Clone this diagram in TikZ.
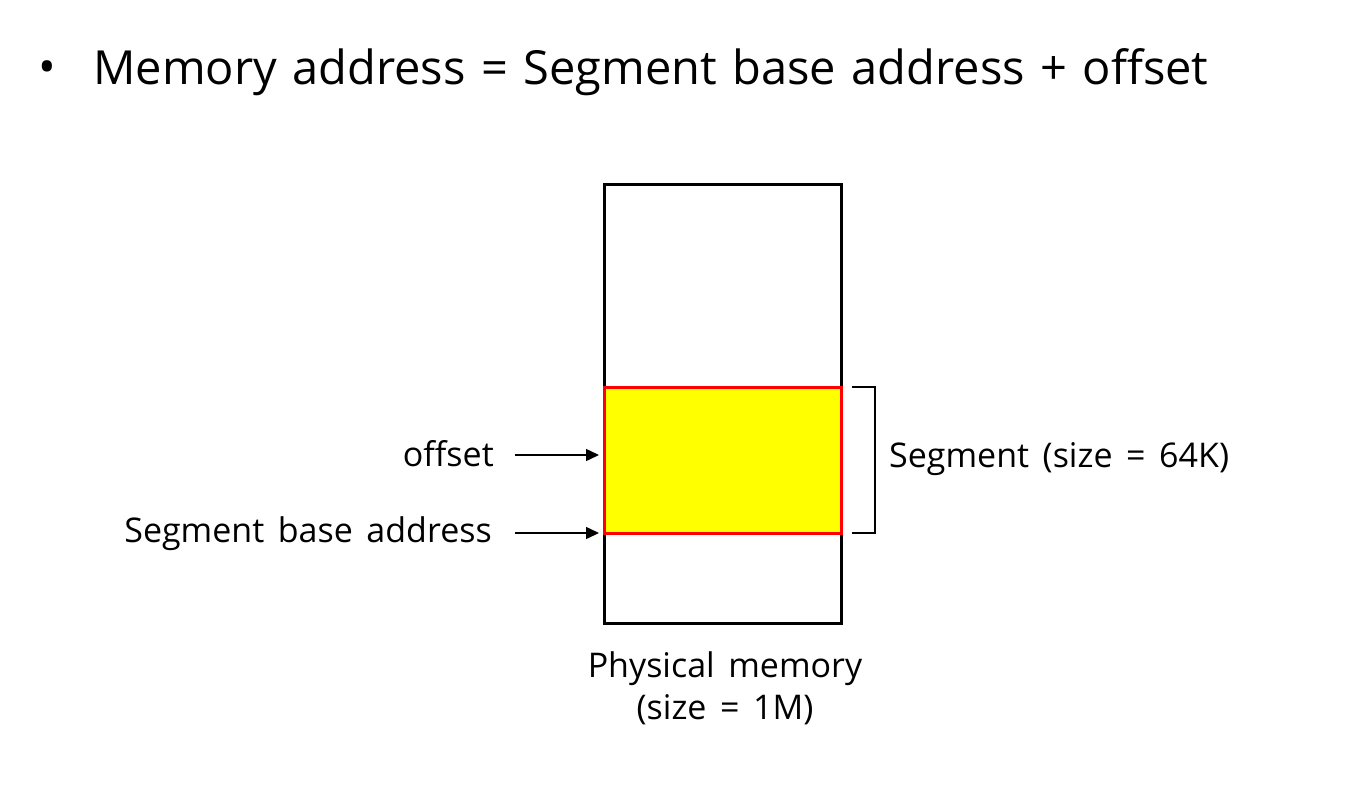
\documentclass[tikz,border=0pt]{standalone}
\usepackage{fontspec}
\setmainfont{Open Sans}
\usetikzlibrary{arrows.meta}
\definecolor{segyellow}{RGB}{255,255,0}
\definecolor{segred}{RGB}{255,0,0}
\newcommand{\lblfont}{\fontsize{34}{42}\selectfont\spaceskip=0.40em\relax}
\newcommand{\ttlfont}{\fontsize{47}{55}\selectfont\spaceskip=0.33em\relax}
\begin{document}
\begin{tikzpicture}[x=1pt,y=-1pt,
  lbl/.style={inner sep=0pt,font=\lblfont},
  ttl/.style={inner sep=0pt,font=\ttlfont},
  arr/.style={-{Triangle[length=13pt,width=12pt]},line width=1.5pt}]
\useasboundingbox[fill=white] (0,0) rectangle (1353,793);
\node[ttl,anchor=west] (bul) at (38,72) {•};
\node[ttl,anchor=west] (title) at (93,72) {Memory address = Segment base address + offset};
\node[draw=black,line width=3pt,minimum width=237pt,minimum height=439pt,inner sep=0pt] (mem) at (722.5,403.5) {};
\node[draw=segred,fill=segyellow,line width=3pt,minimum width=237pt,minimum height=146pt,inner sep=0pt] (seg) at (722.5,460) {};
\coordinate (bt) at (852,387);
\coordinate (bb) at (852,533);
\draw[line width=2pt] (bt) -- ++(23,0) |- (bb);
\node[lbl,anchor=west] (segl) at (889,459) {Segment (size = 64K)};
\node[lbl,anchor=east] (off) at (494,454) {offset};
\node[lbl,anchor=east] (base) at (492,534) {Segment base address};
\coordinate (offs) at (515,455);
\coordinate (offe) at (599,455);
\coordinate (bases) at (515,533);
\coordinate (basee) at (599,533);
\draw[arr] (offs) -- (offe);
\draw[arr] (bases) -- (basee);
\node[lbl,align=center,anchor=north] (phys) at (725,651) {Physical memory\\(size = 1M)};
\end{tikzpicture}
\end{document}
